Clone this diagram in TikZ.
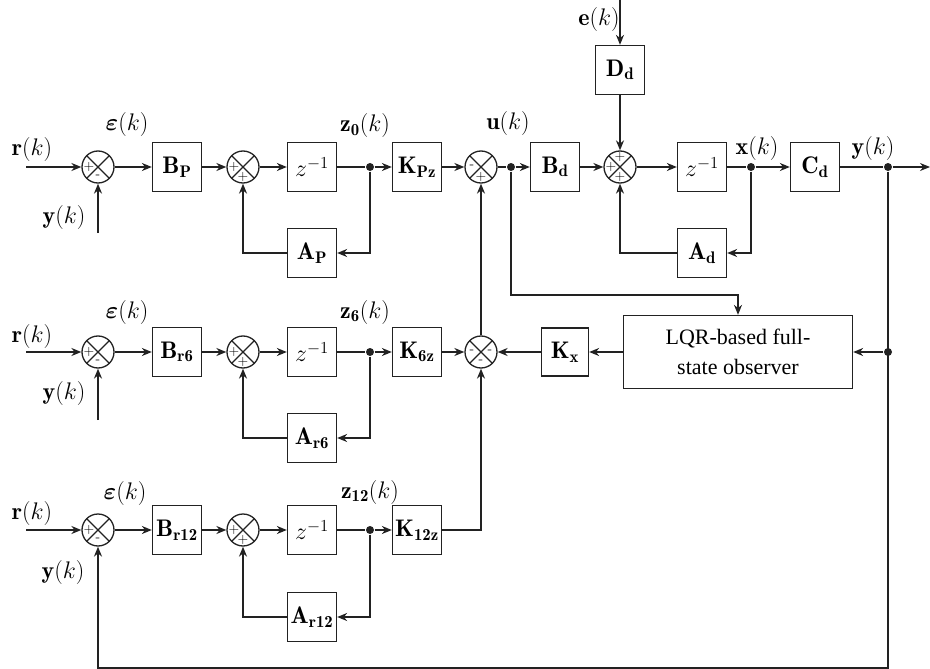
\documentclass[tikz,border=0pt]{standalone}
\usepackage{fix-cm}
\usepackage{bm}
\usepackage{fontspec}
\newfontfamily\lqrfont{Liberation Serif}
\usetikzlibrary{arrows.meta,calc}
\definecolor{ink}{HTML}{222222}
\tikzset{
  blk/.style={draw=ink, minimum width=49pt, minimum height=49pt, inner sep=0pt, font=\fontsize{24}{28}\selectfont},
  lbl/.style={inner sep=0pt, font=\fontsize{24}{28}\selectfont},
  sgn/.style={inner sep=0pt, font=\fontsize{14}{14}\selectfont},
  sgnl/.style={label={[sgn,xshift=-9pt]center:#1}},
  sgnr/.style={label={[sgn,xshift=9pt]center:#1}},
  sgnb/.style={label={[sgn,yshift=-10pt]center:#1}},
  sgnt/.style={label={[sgn,yshift=10pt]center:#1}},
  sumj/.style={circle, draw=ink, minimum size=32pt, inner sep=0pt,
    path picture={\draw[ink, line width=1.3pt]
      (path picture bounding box.north west) -- (path picture bounding box.south east)
      (path picture bounding box.north east) -- (path picture bounding box.south west);}},
  jdot/.style={circle, fill=ink, minimum size=8pt, inner sep=0pt},
  arr/.style={-{Stealth[length=10pt,width=8pt]}},
}
\begin{document}
\begin{tikzpicture}[x=1pt,y=-1pt,line width=1.3pt,draw=ink]
\useasboundingbox (0,0) rectangle (930,669);

% ---------- Row 1 ----------
\node[lbl] (r1) at (32,150) {$\mathbf{r}(k)$};
\coordinate (in1) at (26,167);
\node[sumj, sgnl=+, sgnb=-] (s11) at (98,167) {};
\coordinate (yin1) at (98,233);
\node[lbl] (y1) at (64,217) {$\mathbf{y}(k)$};
\node[lbl] (e1) at (127,125) {$\bm{\varepsilon}(k)$};
\node[blk] (b1) at (177,167) {$\mathbf{B_P}$};
\node[sumj, sgnl=+, sgnb=+] (s12) at (243,167) {};
\node[blk] (z1) at (312,167) {$z^{-1}$};
\node[jdot] (d1) at (370,167) {};
\node[lbl] (zl1) at (365,126) {$\mathbf{z_0}(k)$};
\node[blk] (k1) at (417,167) {$\mathbf{K_{Pz}}$};
\node[blk] (a1) at (312,253) {$\mathbf{A_P}$};
\node[sumj, sgnl=-, sgnb=+] (su) at (481,167) {};

\draw[arr] (in1) -- (s11);
\draw[arr] (yin1) -- (s11);
\draw[arr] (s11) -- (b1);
\draw[arr] (b1) -- (s12);
\draw[arr] (s12) -- (z1);
\draw (z1) -- (d1);
\draw[arr] (d1) -- (k1);
\draw[arr] (d1) |- (a1);
\draw[arr] (a1) -| (s12);
\draw[arr] (k1) -- (su);

% ---------- Plant ----------
\node[jdot] (du) at (511,167) {};
\node[lbl] (ul) at (508,124) {$\mathbf{u}(k)$};
\node[blk] (bd) at (555,167) {$\mathbf{B_d}$};
\node[sumj, sgnl=+, sgnt=+, sgnb=+] (sp) at (620,167) {};
\node[blk] (dd) at (620,70) {$\mathbf{D_d}$};
\coordinate (ein) at (620,0);
\node[lbl] (el) at (599,20) {$\mathbf{e}(k)$};
\node[blk] (zd) at (702,167) {$z^{-1}$};
\node[jdot] (dx) at (751,167) {};
\node[lbl] (xl) at (757,149) {$\mathbf{x}(k)$};
\node[blk] (cd) at (815,167) {$\mathbf{C_d}$};
\node[jdot] (dy) at (888,167) {};
\node[lbl] (yl) at (873,149) {$\mathbf{y}(k)$};
\coordinate (yout) at (930,167);
\node[blk] (ad) at (702,253) {$\mathbf{A_d}$};

\draw (su) -- (du);
\draw[arr] (du) -- (bd);
\draw[arr] (bd) -- (sp);
\draw[arr] (ein) -- (dd);
\draw[arr] (dd) -- (sp);
\draw[arr] (sp) -- (zd);
\draw (zd) -- (dx);
\draw[arr] (dx) -- (cd);
\draw[arr] (dx) |- (ad);
\draw[arr] (ad) -| (sp);
\draw (cd) -- (dy);
\draw[arr] (dy) -- (yout);

% ---------- Row 2 ----------
\node[lbl] (r2) at (32,336) {$\mathbf{r}(k)$};
\coordinate (in2) at (26,352);
\node[sumj, sgnl=+, sgnb=-] (s21) at (98,352) {};
\coordinate (yin2) at (98,420);
\node[lbl] (y2) at (64,393) {$\mathbf{y}(k)$};
\node[lbl] (e2) at (127,312) {$\bm{\varepsilon}(k)$};
\node[blk] (b2) at (177,352) {$\mathbf{B_{r6}}$};
\node[sumj, sgnl=+, sgnb=+] (s22) at (243,352) {};
\node[blk] (z2) at (312,352) {$z^{-1}$};
\node[jdot] (d2) at (370,352) {};
\node[lbl] (zl2) at (365,312) {$\mathbf{z_6}(k)$};
\node[blk] (k2) at (417,352) {$\mathbf{K_{6z}}$};
\node[blk] (a2) at (312,438) {$\mathbf{A_{r6}}$};
\node[sumj, sgnl=-, sgnr=-, sgnb=-] (sk) at (481,352) {};
\node[blk, minimum width=47pt, minimum height=48pt] (kx) at (565,352) {$\mathbf{K_x}$};
\node[draw=ink, minimum width=229pt, minimum height=73pt, align=center, inner sep=0pt,
      font=\lqrfont\fontsize{22}{30}\selectfont] (obs) at (738,352) {LQR-based full-\\state observer};
\node[jdot] (dy2) at (888,352) {};
\coordinate (uturn) at (511,295);

\draw[arr] (in2) -- (s21);
\draw[arr] (yin2) -- (s21);
\draw[arr] (s21) -- (b2);
\draw[arr] (b2) -- (s22);
\draw[arr] (s22) -- (z2);
\draw (z2) -- (d2);
\draw[arr] (d2) -- (k2);
\draw[arr] (d2) |- (a2);
\draw[arr] (a2) -| (s22);
\draw[arr] (k2) -- (sk);
\draw[arr] (sk) -- (su);
\draw[arr] (obs) -- (kx);
\draw[arr] (kx) -- (sk);
\draw[arr] (du) -- (uturn) -| (obs.north);
\draw[arr] (dy2) -- (obs.east);

% ---------- Row 3 ----------
\node[lbl] (r3) at (32,513) {$\mathbf{r}(k)$};
\coordinate (in3) at (26,530);
\node[sumj, sgnl=+, sgnb=-] (s31) at (98,530) {};
\node[lbl] (y3) at (63,572) {$\mathbf{y}(k)$};
\node[lbl] (e3) at (125,493) {$\bm{\varepsilon}(k)$};
\node[blk] (b3) at (177,530) {$\mathbf{B_{r12}}$};
\node[sumj, sgnl=+, sgnb=+] (s32) at (243,530) {};
\node[blk] (z3) at (312,530) {$z^{-1}$};
\node[jdot] (d3) at (370,530) {};
\node[lbl] (zl3) at (370,492) {$\mathbf{z_{12}}(k)$};
\node[blk] (k3) at (417,530) {$\mathbf{K_{12z}}$};
\node[blk] (a3) at (312,617) {$\mathbf{A_{r12}}$};
\coordinate (fb1) at (888,668);
\coordinate (fb2) at (98,668);

\draw[arr] (in3) -- (s31);
\draw[arr] (s31) -- (b3);
\draw[arr] (b3) -- (s32);
\draw[arr] (s32) -- (z3);
\draw (z3) -- (d3);
\draw[arr] (d3) -- (k3);
\draw[arr] (d3) |- (a3);
\draw[arr] (a3) -| (s32);
\draw[arr] (k3) -| (sk);
\draw[arr] (dy) -- (fb1) -- (fb2) -- (s31);
\end{tikzpicture}
\end{document}
